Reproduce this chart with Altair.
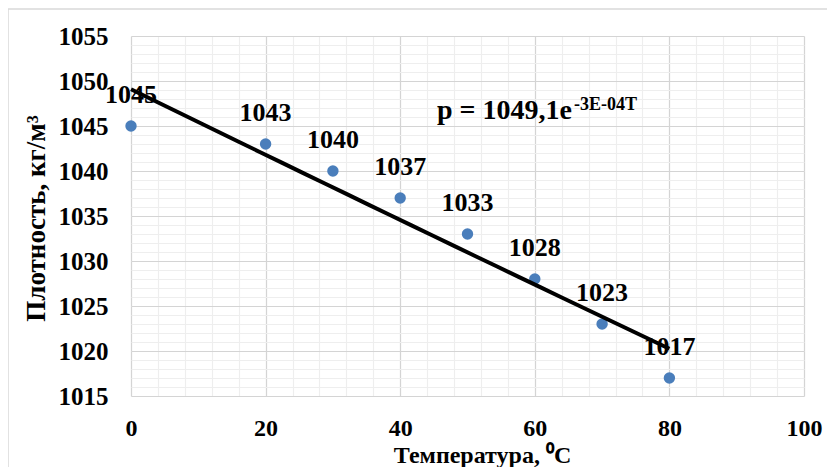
import altair as alt
import pandas as pd

# ---- data ----
temps = [0, 20, 30, 40, 50, 60, 70, 80]
dens = [1045, 1043, 1040, 1037, 1033, 1028, 1023, 1017]
x_major = [0, 20, 40, 60, 80, 100]
x_minor = list(range(0, 101, 4))
y_major = [1015, 1020, 1025, 1030, 1035, 1040, 1045, 1050, 1055]
y_minor = list(range(1015, 1056))
eq_main = "p = 1049,1e"
eq_sup = "-3E-04T"
x_title = "Температура, ⁰C"
y_title = "Плотность, кг/м³"

df = pd.DataFrame({"T": temps, "rho": dens})
FONT = "Liberation Serif"

xs = alt.Scale(domain=[0, 100], nice=False)
ys = alt.Scale(domain=[1015, 1055], nice=False, zero=False)

minor = alt.Chart(df).mark_point(opacity=0).encode(
    x=alt.X("T:Q", scale=xs, axis=alt.Axis(values=x_minor, grid=True, gridColor="#eeeeee",
                                          labels=False, ticks=False, domain=False, title=None,
                                          orient="bottom")),
    y=alt.Y("rho:Q", scale=ys, axis=alt.Axis(values=y_minor, grid=True, gridColor="#eeeeee",
                                            labels=False, ticks=False, domain=False, title=None,
                                            orient="left")),
)

points = alt.Chart(df).mark_circle(size=130, color="#4A7EBB", opacity=1).encode(
    x=alt.X("T:Q", scale=xs, axis=alt.Axis(values=x_major, grid=True, gridColor="#d4d4d4",
                                          ticks=False, domain=False, title=x_title, orient="bottom",
                                          format="d", labelFlush=False, labelFontSize=24,
                                          titleFontSize=24,
                                          labelPadding=20, titleX=351, titleY=66,
                                          titleBaseline="alphabetic", titleAlign="center")),
    y=alt.Y("rho:Q", scale=ys, axis=alt.Axis(values=y_major, grid=True, gridColor="#d4d4d4",
                                            ticks=False, domain=False, title=y_title, orient="left",
                                            format="d", labelFlush=False, labelFontSize=25,
                                            titleFontSize=27,
                                            labelPadding=23, titleAngle=270, titleX=-95, titleY=182,
                                            titleAlign="center", titleBaseline="middle")),
)

trend = alt.Chart(df).transform_regression(
    "T", "rho", method="exp", extent=[0, 80]
).mark_line(color="black", strokeWidth=4).encode(
    x=alt.X("T:Q", scale=xs, axis=None),
    y=alt.Y("rho:Q", scale=ys, axis=None),
)

labels = alt.Chart(df).mark_text(
    font=FONT, fontSize=26, fontWeight="bold", color="black", baseline="alphabetic", dy=-23
).encode(
    x=alt.X("T:Q", scale=xs, axis=None),
    y=alt.Y("rho:Q", scale=ys, axis=None),
    text=alt.Text("rho:Q", format="d"),
)

one = alt.Data(values=[{}])
eq1 = alt.Chart(one).mark_text(
    font=FONT, fontSize=28, fontWeight="bold", color="black", align="left", baseline="alphabetic"
).encode(x=alt.value(306), y=alt.value(83), text=alt.value(eq_main))
eq2 = alt.Chart(one).mark_text(
    font=FONT, fontSize=18, fontWeight="bold", color="black", align="left", baseline="alphabetic"
).encode(x=alt.value(443), y=alt.value(74), text=alt.value(eq_sup))

border = alt.Chart(one).mark_rect(fill=None, stroke="#d9d9d9", strokeWidth=1.5).encode(
    x=alt.value(-123), x2=alt.value(720), y=alt.value(-27), y2=alt.value(460)
)

chart = alt.layer(minor, points, trend, labels, eq1, eq2, border).resolve_axis(
    x="independent", y="independent"
).properties(
    width=673, height=360,
    autosize=alt.AutoSizeParams(type="none"),
    padding={"left": 123, "top": 28, "right": 23, "bottom": 71},
).configure_view(stroke=None).configure_axis(
    labelFont=FONT, labelFontWeight="bold", labelColor="black",
    titleFont=FONT, titleFontWeight="bold", titleColor="black",
    gridWidth=1.2,
)

chart.save("out.html", embed_options={"renderer": "svg", "actions": False})
